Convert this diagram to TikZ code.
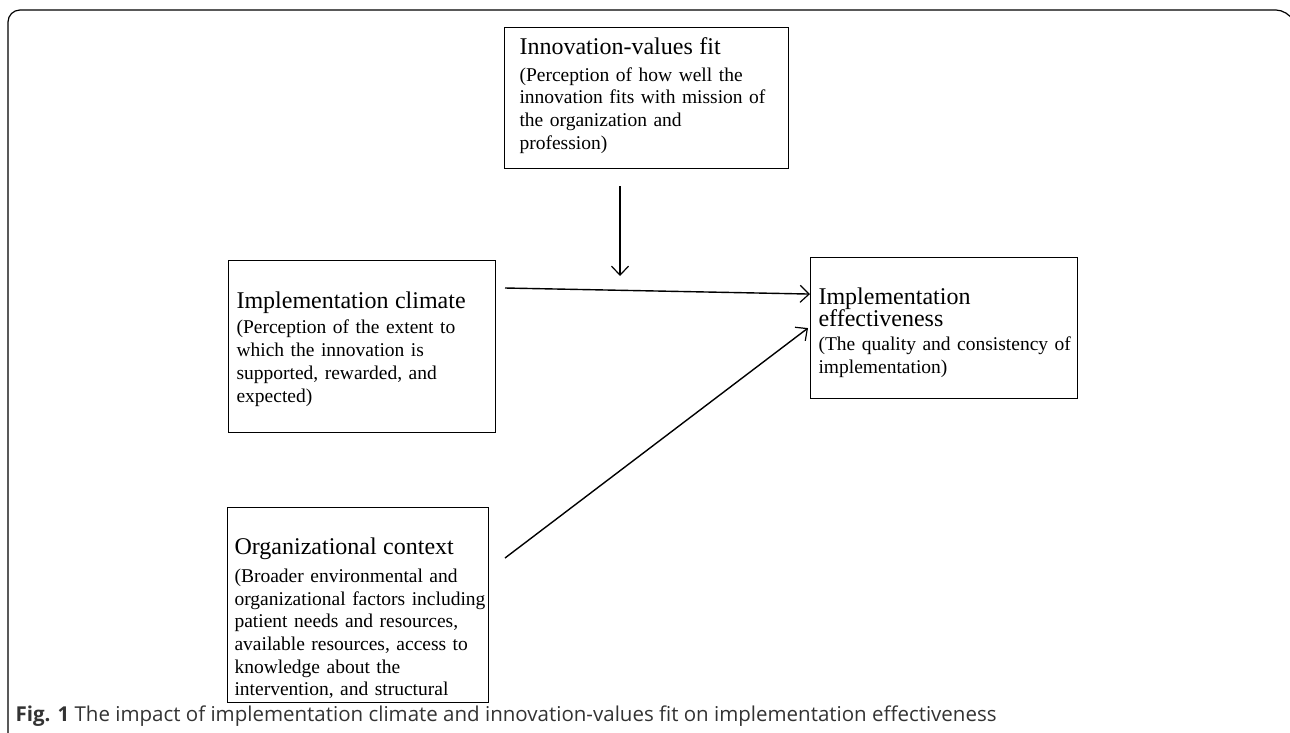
\documentclass[tikz,border=0pt]{standalone}
\usepackage{fontspec}
\setmainfont{Liberation Serif}
\newfontfamily\legende{Open Sans}
\usetikzlibrary{arrows.meta}
\newcommand{\titre}[1]{{\fontsize{24}{23}\selectfont #1}}
\begin{document}
\begin{tikzpicture}[x=1pt, y=-1pt, line width=1.1pt]
\tikzstyle{cadre} = [draw, line width=1.1pt, anchor=north west, inner sep=0pt]
\tikzstyle{texte} = [anchor=north west, inner sep=0pt, text width=275pt, align=left, font=\fontsize{19.5}{22.7}\selectfont]
\tikzstyle{fleche} = [-{Straight Barb[length=9pt, width=17pt, line width=1.2pt]}, line width=1.4pt]
\useasboundingbox (0,0) rectangle (1290,732);
\draw[rounded corners=12, line width=1.2pt] (8,745) -- (8,10) -- (1288,10) -- (1292,18);
\node[cadre, minimum width=284, minimum height=141] (valeurs) at (504,27) {};
\node[cadre, minimum width=267, minimum height=172] (climat) at (228,260) {};
\node[cadre, minimum width=267, minimum height=141] (efficacite) at (810,257) {};
\node[cadre, minimum width=261, minimum height=195] (contexte) at (227,507) {};
\node[texte] (valeursTxt) at (519,37) {\titre{Innovation-values fit}\\[4pt]
(Perception of how well the\\ innovation fits with mission of\\ the organization and\\ profession)};
\node[texte] (climatTxt) at (236,291) {\titre{Implementation climate}\\[3pt]
(Perception of the extent to\\ which the innovation is\\ supported, rewarded, and\\ expected)};
\node[texte] (efficaciteTxt) at (818,287) {\titre{Implementation}\\ \titre{effectiveness}\\[1pt]
(The quality and consistency of\\ implementation)};
\node[texte] (contexteTxt) at (234,537) {\titre{Organizational context}\\[5.5pt]
(Broader environmental and\\ organizational factors including\\ patient needs and resources,\\ available resources, access to\\ knowledge about the\\ intervention, and structural};
\coordinate (valeursBas) at (620,186);
\coordinate (croisement) at (620,276);
\coordinate (climatSortie) at (505,288);
\coordinate (contexteSortie) at (505,558);
\draw[fleche] (valeursBas) -- (croisement);
\draw[fleche] (climatSortie) -- ([yshift=34]efficacite.west);
\draw[fleche] (contexteSortie) -- ([xshift=-2]efficacite.west);
\node[anchor=base west, inner sep=0pt, font=\legende\fontsize{20.5}{24}\selectfont, text=black!80] (legende) at (15,721) {\textbf{Fig. 1} The impact of implementation climate and innovation-values fit on implementation effectiveness};
\end{tikzpicture}
\end{document}
